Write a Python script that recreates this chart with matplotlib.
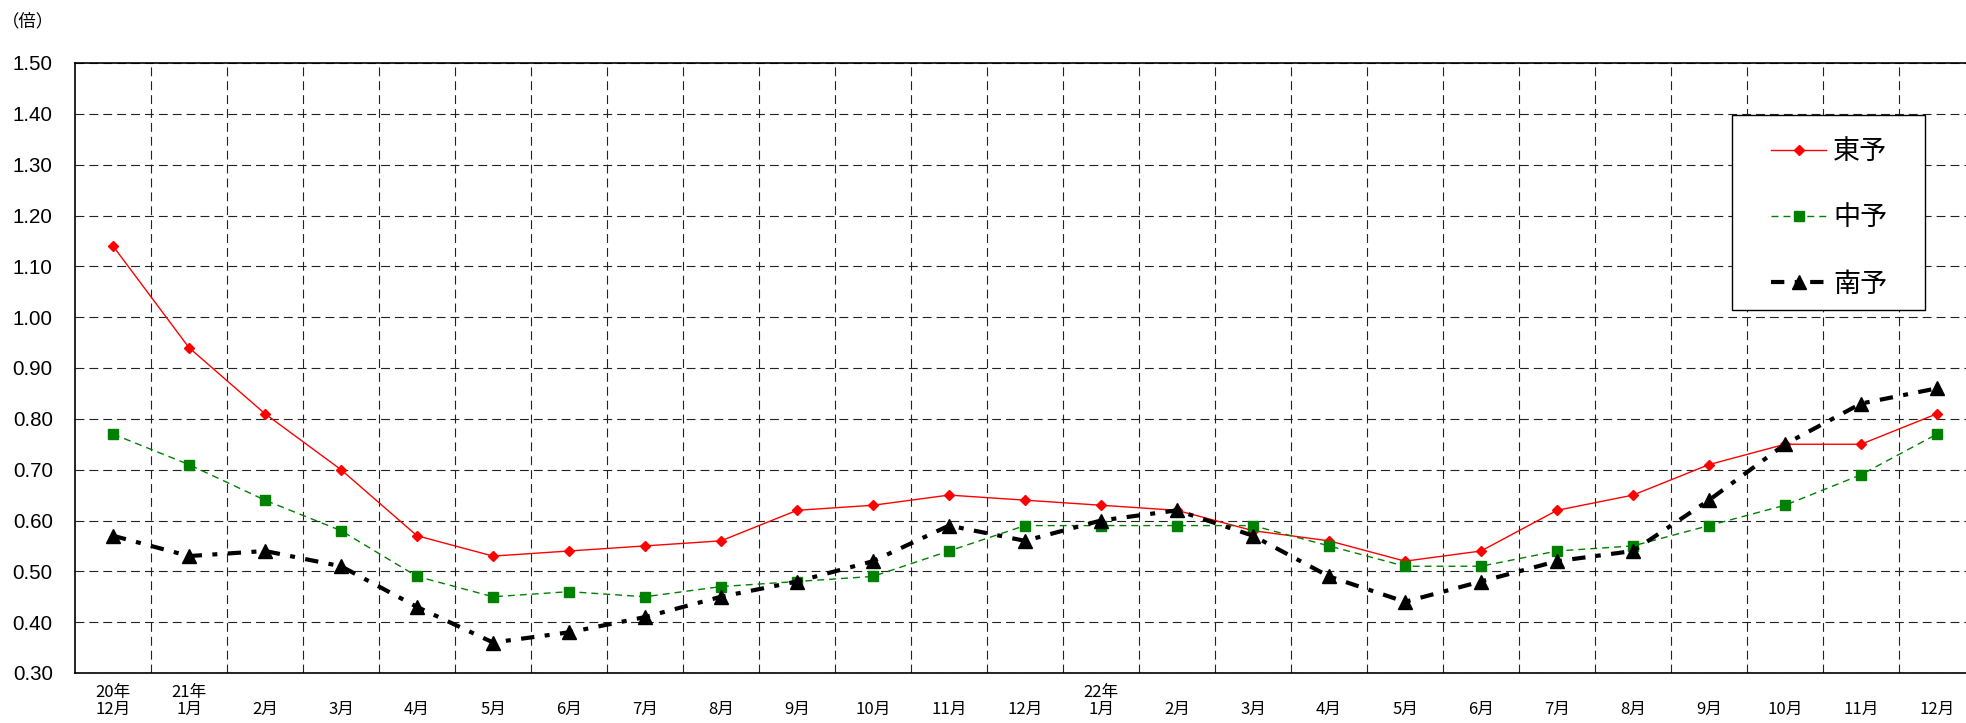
import numpy as np
import matplotlib
matplotlib.use("Agg")
import matplotlib.pyplot as plt
from matplotlib.patches import Rectangle
from matplotlib.ticker import FixedLocator

plt.rcParams['font.family'] = ['Noto Sans CJK JP', 'DejaVu Sans']

# データ（有効求人倍率、地域別）
months = ["20年\n12月", "21年\n1月", "\n2月", "\n3月", "\n4月", "\n5月", "\n6月", "\n7月",
          "\n8月", "\n9月", "\n10月", "\n11月", "\n12月", "22年\n1月", "\n2月", "\n3月",
          "\n4月", "\n5月", "\n6月", "\n7月", "\n8月", "\n9月", "\n10月", "\n11月", "\n12月"]

toyo = [1.14, 0.94, 0.81, 0.70, 0.57, 0.53, 0.54, 0.55, 0.56, 0.62, 0.63, 0.65, 0.64,
        0.63, 0.62, 0.58, 0.56, 0.52, 0.54, 0.62, 0.65, 0.71, 0.75, 0.75, 0.81]
chuyo = [0.77, 0.71, 0.64, 0.58, 0.49, 0.45, 0.46, 0.45, 0.47, 0.48, 0.49, 0.54, 0.59,
         0.59, 0.59, 0.59, 0.55, 0.51, 0.51, 0.54, 0.55, 0.59, 0.63, 0.69, 0.77]
nanyo = [0.57, 0.53, 0.54, 0.51, 0.43, 0.36, 0.38, 0.41, 0.45, 0.48, 0.52, 0.59, 0.56,
         0.60, 0.62, 0.57, 0.49, 0.44, 0.48, 0.52, 0.54, 0.64, 0.75, 0.83, 0.86]

yticks = [0.30, 0.40, 0.50, 0.60, 0.70, 0.80, 0.90, 1.00, 1.10, 1.20, 1.30, 1.40, 1.50]
#----------------------------------------------------------------------------------------

W, H = 1966, 723
fig = plt.figure(figsize=(W / 100, H / 100), dpi=100)
# 右端は画像の外にはみ出している
ax = fig.add_axes([75 / W, 50 / H, 1900 / W, 610 / H])

x = np.arange(len(months))

ax.plot(x, toyo, color="red", lw=1.0, marker="D", ms=5, label="東予")
ax.plot(x, chuyo, color="green", lw=1.0, linestyle=(0, (5, 3.6)), marker="s", ms=6.5,
        label="中予")
ax.plot(x, nanyo, color="black", lw=3.0, linestyle=(0, (3.2, 2.5, 1.2, 2.5)), marker="^",
        ms=10.5, label="南予")

ax.set_xlim(-0.5, len(months) - 0.5)
ax.set_ylim(yticks[0], yticks[-1])

ax.set_xticks(x)
ax.set_xticklabels(months, fontsize=12, linespacing=1.0)
ax.xaxis.set_minor_locator(FixedLocator(np.arange(0.5, len(months) - 1, 1.0)))
ax.tick_params(axis="x", which="both", length=0, pad=8)

ax.set_yticks(yticks)
ax.set_yticklabels([f"{v:.2f}" for v in yticks], fontsize=14.8, family="Liberation Sans")
ax.tick_params(axis="y", length=0, pad=16)

grid_kw = dict(color="#222222", lw=0.8, linestyle=(0, (8, 4.5)))
ax.grid(True, axis="x", which="minor", **grid_kw)
ax.grid(True, axis="y", which="major", **grid_kw)
ax.grid(False, axis="x", which="major")

for s in ax.spines.values():
    s.set_linewidth(1.2)
    s.set_color("black")

fig.text(2 / W, 1 - 21 / H, "（倍）", fontsize=12.5, ha="left", va="center")

# 凡例：枠は別に描く
ax.add_patch(Rectangle((1732 / W, 1 - 310 / H), 193 / W, 195 / H,
                       transform=fig.transFigure, clip_on=False, facecolor="white",
                       edgecolor="black", lw=1.0, zorder=4))
leg = ax.legend(loc="upper left", bbox_to_anchor=(1771 / W, 1 - 138 / H),
                bbox_transform=fig.transFigure, fontsize=19.5, frameon=False,
                borderpad=0, labelspacing=1.45, handlelength=2.04, handletextpad=0.26,
                borderaxespad=0)
leg.set_zorder(6)

fig.savefig("out.png", dpi=100)
